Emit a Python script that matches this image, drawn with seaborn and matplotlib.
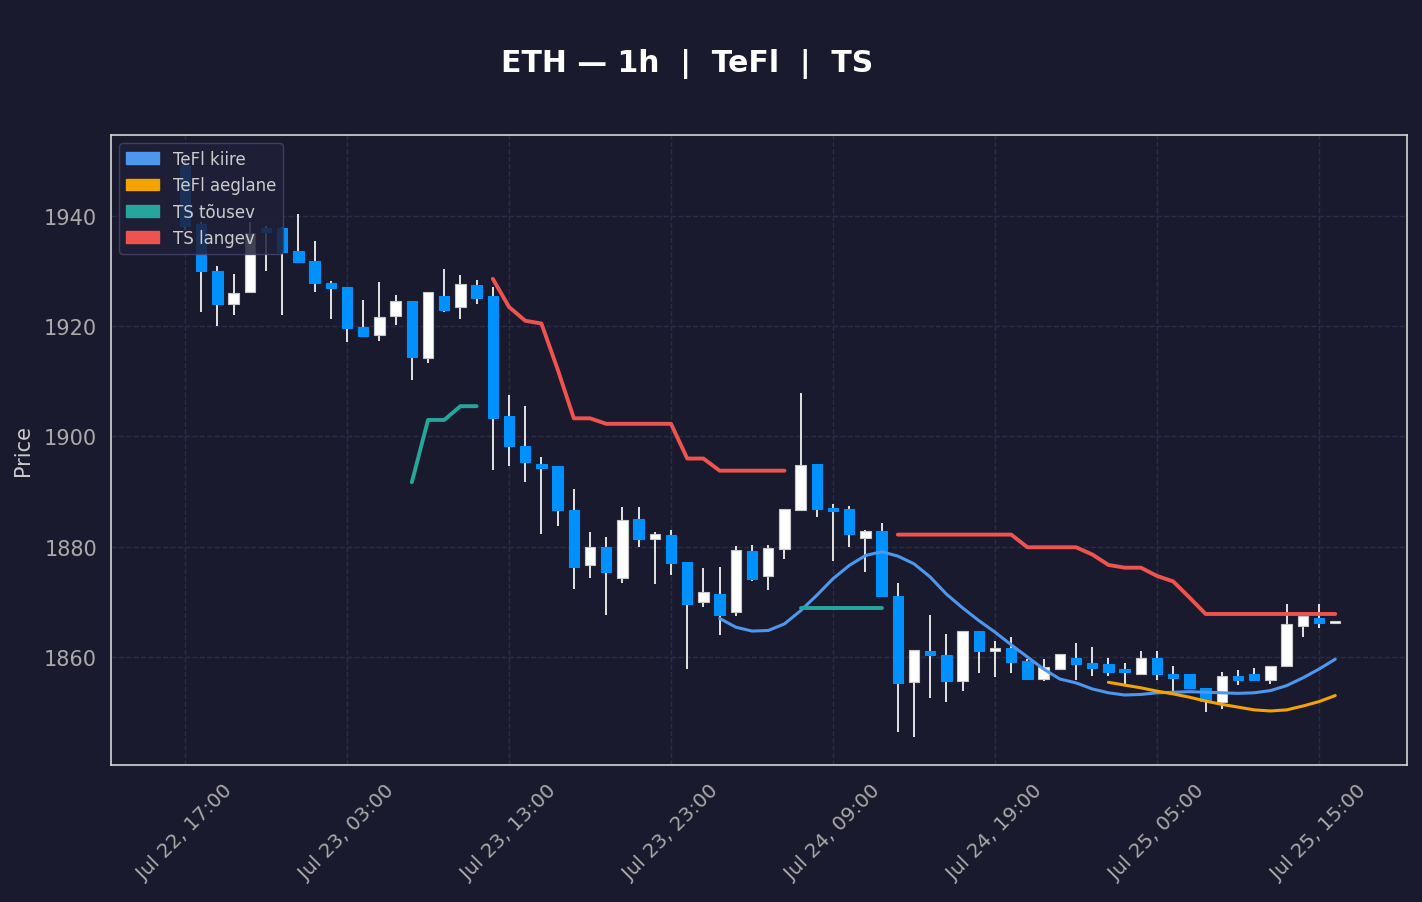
import matplotlib.pyplot as plt
import matplotlib.dates as mdates
from matplotlib.patches import Patch
import numpy as np
import pandas as pd
import seaborn as sns

nan = np.nan

# hourly ETH candles, first one at Jul 22 17:00
start = '2023-07-22 17:00'
opens = [1949.3, 1938.5, 1930.0, 1924.1, 1926.2, 1937.9, 1937.8, 1933.6, 1931.8, 1927.8,
         1927.2, 1919.8, 1918.5, 1921.8, 1924.5, 1914.3, 1925.5, 1923.5, 1927.4, 1925.4,
         1903.7, 1898.2, 1895.1, 1894.6, 1886.6, 1876.6, 1879.9, 1874.4, 1885.0, 1881.4,
         1882.2, 1877.3, 1869.9, 1871.5, 1868.1, 1879.3, 1874.6, 1879.5, 1886.6, 1895.0,
         1887.1, 1886.8, 1881.5, 1882.8, 1871.1, 1855.5, 1861.1, 1860.3, 1855.7, 1864.8,
         1861.0, 1861.6, 1859.2, 1856.0, 1857.8, 1859.8, 1858.9, 1858.7, 1857.8, 1857.0,
         1859.8, 1857.0, 1857.0, 1854.3, 1851.8, 1856.5, 1856.9, 1855.9, 1858.3, 1865.6,
         1867.0, 1866.1]
highs = [1950.3, 1939.0, 1930.9, 1929.5, 1938.9, 1938.2, 1938.0, 1940.3, 1935.5, 1928.2,
         1927.2, 1924.8, 1928.0, 1925.7, 1924.5, 1926.2, 1930.4, 1929.3, 1928.4, 1927.1,
         1907.5, 1905.5, 1896.3, 1894.6, 1890.5, 1882.7, 1881.8, 1887.2, 1887.2, 1882.7,
         1883.0, 1877.3, 1876.1, 1876.4, 1880.2, 1880.3, 1880.3, 1886.8, 1907.9, 1895.0,
         1887.7, 1887.3, 1883.1, 1884.3, 1873.5, 1861.2, 1867.6, 1864.2, 1864.8, 1864.8,
         1862.9, 1863.7, 1859.6, 1859.6, 1860.5, 1862.5, 1861.8, 1859.8, 1858.9, 1861.1,
         1861.1, 1858.4, 1857.0, 1854.3, 1857.3, 1857.6, 1858.0, 1858.3, 1869.6, 1867.4,
         1869.6, 1866.6]
lows = [1937.5, 1922.5, 1920.1, 1922.0, 1926.2, 1930.0, 1922.0, 1931.7, 1926.3, 1921.3,
        1917.2, 1918.1, 1917.4, 1920.3, 1910.3, 1913.3, 1922.6, 1921.3, 1924.0, 1894.0,
        1894.7, 1891.8, 1882.3, 1883.8, 1872.3, 1874.3, 1867.7, 1873.4, 1880.0, 1873.2,
        1874.9, 1857.9, 1869.1, 1863.9, 1867.5, 1873.7, 1872.2, 1877.8, 1886.6, 1885.4,
        1877.5, 1879.9, 1875.4, 1871.1, 1846.4, 1845.5, 1852.6, 1851.9, 1853.9, 1857.1,
        1856.4, 1857.1, 1856.0, 1855.7, 1857.8, 1855.8, 1856.5, 1856.6, 1855.0, 1857.0,
        1855.8, 1853.9, 1854.4, 1850.0, 1850.5, 1854.9, 1855.9, 1855.1, 1858.3, 1863.7,
        1865.2, 1866.1]
closes = [1938.2, 1930.0, 1924.1, 1926.0, 1936.9, 1937.1, 1933.4, 1931.7, 1927.8, 1926.9,
          1919.6, 1918.3, 1921.6, 1924.5, 1914.4, 1926.2, 1923.0, 1927.6, 1925.2, 1903.3,
          1898.2, 1895.3, 1894.3, 1886.7, 1876.3, 1879.9, 1875.5, 1884.9, 1881.4, 1882.3,
          1877.0, 1869.6, 1871.7, 1867.7, 1879.4, 1874.2, 1879.7, 1886.8, 1894.8, 1886.8,
          1886.4, 1882.4, 1882.8, 1871.1, 1855.2, 1861.2, 1860.4, 1855.7, 1864.8, 1861.0,
          1861.6, 1859.0, 1856.0, 1858.1, 1860.5, 1858.7, 1858.0, 1857.2, 1857.3, 1859.8,
          1857.0, 1856.2, 1854.4, 1852.1, 1856.5, 1855.9, 1855.9, 1858.3, 1866.0, 1867.4,
          1866.1, 1866.6]

tefl_fast = [nan] * 33 + [1867.0, 1865.4, 1864.7, 1864.8, 1866.0, 1868.4, 1871.2, 1874.2, 1876.6,
                          1878.4, 1879.1, 1878.3, 1876.9, 1874.5, 1871.4, 1868.9, 1866.6, 1864.5,
                          1862.2, 1860.0, 1857.8, 1856.0, 1855.3, 1854.2, 1853.5, 1853.1, 1853.2,
                          1853.5, 1853.6, 1853.7, 1853.6, 1853.5, 1853.4, 1853.5, 1853.9, 1854.8,
                          1856.2, 1857.8, 1859.6]
tefl_slow = [nan] * 57 + [1855.4, 1854.9, 1854.4, 1853.8, 1853.3, 1852.7, 1852.0, 1851.4, 1850.9,
                          1850.4, 1850.2, 1850.4, 1851.1, 1851.9, 1853.0]
ts_up = ([nan] * 14 + [1891.7, 1903.0, 1903.0, 1905.5, 1905.5] + [nan] * 19
         + [1868.8] * 6 + [nan] * 28)
ts_down = ([nan] * 19 + [1928.6, 1923.5, 1921.0, 1920.5, 1912.2, 1903.3, 1903.3, 1902.3, 1902.3,
                         1902.3, 1902.3, 1902.3, 1896.0, 1896.0, 1893.8, 1893.8, 1893.8, 1893.8,
                         1893.8]
           + [nan] * 6
           + [1882.2] * 8 + [1879.9] * 4 + [1878.6, 1876.7, 1876.2, 1876.2, 1874.7, 1873.7, 1870.8]
           + [1867.8] * 9)

BG = '#1a1a2e'
C_UP = '#ffffff'
C_DOWN = '#0091ff'
C_FAST = '#4d98ee'
C_SLOW = '#f5a300'
C_TSUP = '#26a69a'
C_TSDN = '#ef5350'

sns.set_theme(style='darkgrid', rc={'axes.facecolor': BG, 'figure.facecolor': BG,
                                    'grid.color': '#2c2c4a', 'grid.linestyle': '--'})
plt.rcParams['font.family'] = ['DejaVu Sans']

times = pd.date_range(start, periods=len(opens), freq='h')

fig = plt.figure(figsize=(14.22, 9.03), dpi=100)
ax = fig.add_axes([111 / 1422, 1 - 766 / 903, 1296 / 1422, 630 / 903])

o = np.array(opens)
c = np.array(closes)
up = c >= o
ax.vlines(times, lows, highs, color='#e4e4e4', linewidth=1.4, zorder=2)
ax.bar(times, np.abs(c - o), bottom=np.minimum(o, c), width=0.65 / 24,
       color=np.where(up, C_UP, C_DOWN), edgecolor=np.where(up, '#c8c8c8', C_DOWN),
       linewidth=0.8, zorder=3)


def segments(values):
    s = pd.Series(values, index=times)
    ok = s.notna()
    grp = (~ok).cumsum()
    for _, part in s[ok].groupby(grp[ok]):
        yield part


for vals, col, lw in [(tefl_fast, C_FAST, 2.2), (tefl_slow, C_SLOW, 2.2),
                      (ts_up, C_TSUP, 2.8), (ts_down, C_TSDN, 2.8)]:
    for part in segments(vals):
        sns.lineplot(x=part.index, y=part.values, ax=ax, color=col, linewidth=lw, zorder=4)

ax.set_xlim(times[0] - pd.Timedelta(hours=4.57), times[0] + pd.Timedelta(hours=75.43))
ax.set_ylim(1840.4, 1954.7)
ax.set_yticks([1860, 1880, 1900, 1920, 1940])
ax.set_xticks(times[::10])
ax.xaxis.set_major_formatter(mdates.DateFormatter('%b %d, %H:%M'))
ax.tick_params(axis='both', colors='#aaaaaa', length=5, width=1)
ax.tick_params(axis='x', labelsize=14.3, labelrotation=45, pad=6)
ax.tick_params(axis='y', labelsize=15, pad=5)
ax.grid(True, linestyle='--', color='#2c2c4a', linewidth=1)
ax.set_xlabel('')
ax.set_ylabel('Price', color='#cccccc', fontsize=15, labelpad=8)
for sp in ax.spines.values():
    sp.set_visible(True)
    sp.set_color('#d6d6d6')
    sp.set_linewidth(1.2)

handles = [Patch(color=C_FAST, label='TeFl kiire'), Patch(color=C_SLOW, label='TeFl aeglane'),
           Patch(color=C_TSUP, label='TS tõusev'), Patch(color=C_TSDN, label='TS langev')]
leg = ax.legend(handles=handles, loc='upper left', fontsize=12, facecolor='#1f1f38',
                edgecolor='#44446a', framealpha=0.85, labelcolor='#cccccc')

fig.text(0.4835, 0.929, 'ETH — 1h  |  TeFl  |  TS', ha='center', va='center',
         fontsize=21.5, fontweight='bold', color='white')

plt.savefig('out.png', dpi=100, facecolor=BG)
